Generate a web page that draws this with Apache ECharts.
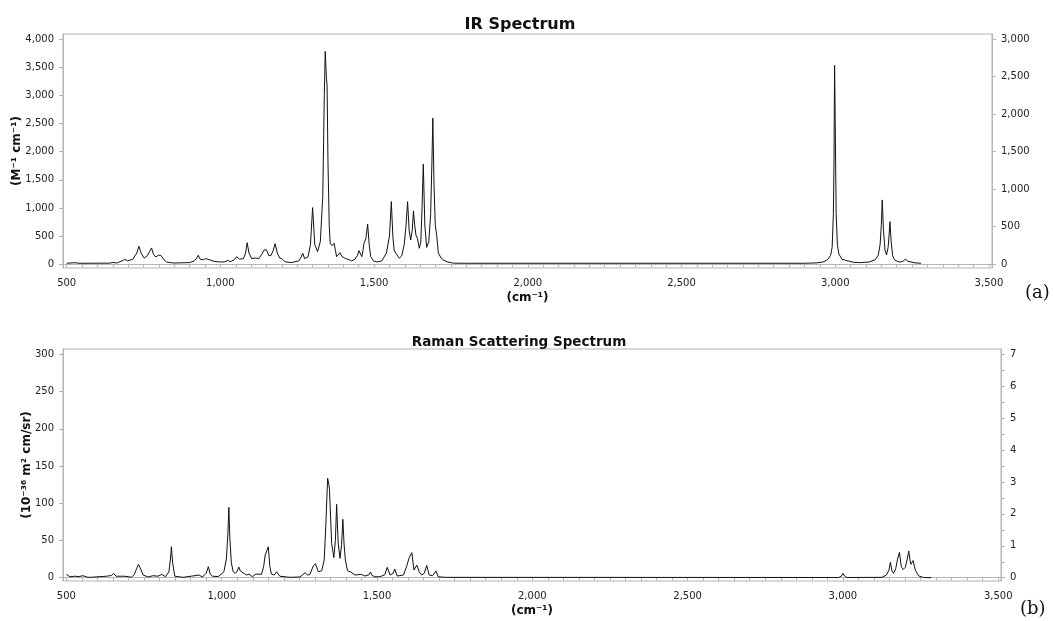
<!DOCTYPE html>
<html>
<head>
<meta charset="utf-8">
<title>IR / Raman Spectrum</title>
<script src="https://cdn.jsdelivr.net/npm/echarts/dist/echarts.min.js"></script>
<style>
  html, body { margin: 0; padding: 0; background: #fff; }
  #main { width: 1053px; height: 621px; }
</style>
</head>
<body>
<div id="main"></div>
<script>
// IR spectrum (cm-1 / M-1 cm-1)
var irX = [500, 527, 540, 640, 651, 662, 680, 689, 698, 715, 728, 735, 742, 752, 762, 770, 776, 782, 790, 798,
  802, 806, 815, 825, 836, 850, 900, 915, 923, 928, 934, 945, 952, 957, 965, 980, 1000, 1015, 1024, 1032,
  1045, 1053, 1062, 1075, 1082, 1087, 1093, 1102, 1113, 1125, 1135, 1142, 1146, 1150, 1158, 1165, 1172, 1178, 1185, 1193,
  1200, 1210, 1230, 1255, 1262, 1268, 1274, 1285, 1293, 1300, 1307, 1316, 1325, 1333, 1338, 1341, 1345, 1347, 1350, 1354,
  1357, 1363, 1370, 1374, 1378, 1384, 1389, 1395, 1400, 1408, 1414, 1420, 1427, 1438, 1446, 1451, 1456, 1460, 1464, 1467,
  1473, 1479, 1484, 1489, 1498, 1509, 1525, 1540, 1550, 1556, 1561, 1565, 1571, 1576, 1582, 1590, 1598, 1604, 1609, 1614,
  1619, 1624, 1628, 1632, 1636, 1641, 1647, 1652, 1656, 1660, 1665, 1671, 1678, 1684, 1688, 1691, 1695, 1699, 1704, 1709,
  1718, 1725, 1740, 1758, 1800, 2900, 2940, 2960, 2975, 2985, 2990, 2994, 2996, 2998, 3000, 3003, 3007, 3012, 3022, 3038,
  3060, 3082, 3110, 3130, 3140, 3146, 3150, 3153, 3157, 3162, 3167, 3172, 3175, 3178, 3182, 3187, 3193, 3203, 3212, 3220,
  3229, 3235, 3239, 3260, 3279];
var irY = [18, 28, 18, 20, 32, 22, 60, 89, 60, 90, 200, 320, 200, 110, 150, 230, 290, 180, 130, 160,
  150, 160, 90, 40, 30, 22, 30, 60, 110, 160, 90, 80, 100, 107, 80, 50, 40, 45, 71, 45,
  80, 135, 90, 100, 200, 384, 200, 100, 112, 100, 180, 254, 230, 254, 150, 160, 250, 366, 200, 110,
  100, 45, 30, 60, 120, 195, 100, 130, 350, 1006, 350, 224, 400, 1200, 3000, 3780, 3300, 3188, 1800, 700,
  378, 330, 373, 250, 135, 160, 206, 140, 107, 100, 117, 80, 59, 90, 160, 242, 180, 135, 250, 373,
  450, 711, 350, 135, 60, 40, 60, 200, 500, 1113, 500, 254, 195, 178, 107, 150, 350, 700, 1113, 600,
  432, 600, 948, 700, 521, 462, 284, 400, 1000, 1778, 700, 300, 400, 900, 1800, 2596, 1400, 700, 491, 200,
  110, 76, 40, 20, 18, 18, 25, 40, 80, 160, 300, 900, 1800, 3531, 2500, 900, 350, 180, 90, 64,
  35, 29, 40, 80, 160, 350, 700, 1143, 600, 250, 165, 300, 500, 758, 400, 150, 76, 50, 41, 50,
  94, 55, 41, 25, 18];

// Raman spectrum (cm-1 / 10-36 m2 cm/sr)
var ramanX = [500, 511, 527, 540, 553, 565, 575, 629, 645, 652, 660, 666, 685, 691, 700, 709, 718, 726, 732, 738,
  747, 763, 779, 795, 807, 819, 830, 835, 838, 842, 849, 876, 927, 938, 950, 957, 963, 970, 989, 1007,
  1015, 1020, 1023, 1026, 1031, 1037, 1044, 1050, 1055, 1060, 1066, 1080, 1088, 1099, 1110, 1128, 1135, 1140, 1144, 1150,
  1155, 1160, 1169, 1177, 1187, 1220, 1252, 1268, 1277, 1284, 1295, 1302, 1311, 1322, 1330, 1335, 1341, 1345, 1347, 1354,
  1361, 1366, 1370, 1375, 1381, 1386, 1390, 1394, 1398, 1405, 1415, 1429, 1450, 1461, 1474, 1479, 1484, 1493, 1509, 1525,
  1533, 1542, 1552, 1557, 1565, 1585, 1595, 1604, 1608, 1612, 1619, 1628, 1636, 1644, 1652, 1660, 1668, 1679, 1690, 1697,
  1720, 2986, 2995, 3000, 3006, 3013, 3126, 3140, 3148, 3153, 3158, 3163, 3170, 3176, 3182, 3188, 3194, 3201, 3207, 3212,
  3216, 3219, 3226, 3233, 3244, 3260, 3284];
var ramanY = [4.5, 1.3, 2, 1.5, 2.7, 1, 0.5, 2, 3, 5.9, 2, 0.5, 2, 3.6, 1.5, 0.5, 4, 12, 18, 13,
  3.6, 1, 2.7, 2, 4.5, 1.3, 8, 25, 41.6, 20, 2, 0.5, 3.6, 1, 6, 14.8, 5, 2, 1.6, 8,
  25, 60, 94.5, 55, 20, 8, 5.9, 9, 14.4, 9, 8, 3.6, 4.9, 1.3, 4.9, 4.5, 15, 30.5, 28, 41.6,
  15, 4.9, 3.6, 8, 2, 0.5, 1, 6.7, 3.6, 4.5, 16, 18.8, 8, 9.4, 23.8, 68.5, 133.5, 125, 118.7, 46,
  27, 50, 98.6, 46, 26, 45, 78.4, 45, 23.8, 9.4, 7.7, 3.6, 4.5, 2.3, 4, 7.7, 3, 1.3, 1.3, 4,
  14, 3.6, 6, 11.7, 2.3, 3.6, 14.8, 27.4, 30, 33.6, 10.3, 17, 8, 3.6, 6, 16.6, 3.6, 2.7, 9, 1.3,
  0.5, 0.3, 2, 5.9, 2, 0.3, 0.5, 3.6, 10, 20.7, 9, 5.9, 12, 25, 34, 15, 11, 14, 25, 35.8,
  24, 18, 23, 10.3, 2.3, 0.3, 0];

// tick labels
var wnTicks = [500, 1000, 1500, 2000, 2500, 3000, 3500];
var irLeftTicks = [0, 500, 1000, 1500, 2000, 2500, 3000, 3500, 4000];
var irRightTicks = [0, 500, 1000, 1500, 2000, 2500, 3000];
var ramanLeftTicks = [0, 50, 100, 150, 200, 250, 300];
var ramanRightTicks = [0, 1, 2, 3, 4, 5, 6, 7];

var wnMinor = [];
for (var v = 500; v <= 3500; v += 50) wnMinor.push(v);
var ramanRightMinor = [];
for (var k = 0; k <= 14; k++) ramanRightMinor.push(k / 2);

function zip(xs, ys) {
  var out = [];
  for (var i = 0; i < xs.length; i++) out.push([xs[i], ys[i]]);
  return out;
}

var FONT = 'DejaVu Sans';
var AXIS_GREY = '#b4b4b4';

function fmt(v) {
  return Number(v).toLocaleString('en-US');
}

function xAxisOf(gridIndex, min, max) {
  return {
    type: 'value',
    gridIndex: gridIndex,
    min: min,
    max: max,
    name: '(cm\u207B\u00B9)',
    nameLocation: 'middle',
    nameGap: 24,
    nameMoveOverlap: false,
    nameTextStyle: { fontFamily: FONT, fontSize: 12, fontWeight: 'bold', color: '#111' },
    axisLine: { show: true, lineStyle: { color: AXIS_GREY } },
    axisTick: { show: true, inside: false, length: 3, customValues: wnMinor, lineStyle: { color: AXIS_GREY } },
    axisLabel: { customValues: wnTicks, formatter: fmt, fontFamily: FONT, fontSize: 10, color: '#222', margin: 10 },
    splitLine: { show: false }
  };
}

function yAxisOf(gridIndex, pos, min, max, labels, ticks, name, gap) {
  return {
    type: 'value',
    gridIndex: gridIndex,
    position: pos,
    min: min,
    max: max,
    name: name || '',
    nameLocation: 'middle',
    nameGap: gap || 0,
    nameMoveOverlap: false,
    nameTextStyle: { fontFamily: FONT, fontSize: 12, fontWeight: 'bold', color: '#111' },
    axisLine: { show: true, lineStyle: { color: AXIS_GREY } },
    axisTick: { show: true, length: 4, customValues: ticks, lineStyle: { color: AXIS_GREY } },
    axisLabel: { customValues: labels, formatter: fmt, fontFamily: FONT, fontSize: 10, color: '#222', margin: 9 },
    splitLine: { show: false }
  };
}

var chart = echarts.init(document.getElementById('main'), null, { renderer: 'canvas' });

var option = {
  animation: false,
  backgroundColor: '#fff',
  title: [
    { text: 'IR Spectrum', left: 515, top: 12, textAlign: 'center',
      textStyle: { fontFamily: FONT, fontSize: 16, fontWeight: 'bold', color: '#111' } },
    { text: 'Raman Scattering Spectrum', left: 514, top: 330, textAlign: 'center',
      textStyle: { fontFamily: FONT, fontSize: 13.5, fontWeight: 'bold', color: '#111' } }
  ],
  grid: [
    { left: 63, right: 61, top: 34, bottom: 353, outerBoundsMode: 'none', containLabel: false,
      show: true, borderColor: AXIS_GREY, borderWidth: 1 },
    { left: 63, right: 52, top: 349, bottom: 40, outerBoundsMode: 'none', containLabel: false,
      show: true, borderColor: AXIS_GREY, borderWidth: 1 }
  ],
  xAxis: [
    xAxisOf(0, 488, 3510),
    xAxisOf(1, 489, 3509)
  ],
  yAxis: [
    yAxisOf(0, 'left', -66, 4089, irLeftTicks, irLeftTicks, '(M\u207B\u00B9 cm\u207B\u00B9)', 40),
    yAxisOf(0, 'right', -49.5, 3066.75, irRightTicks, irRightTicks),
    yAxisOf(1, 'left', -4.4, 307.1, ramanLeftTicks, ramanLeftTicks, '(10\u207B\u00B3\u2076 m\u00B2 cm/sr)', 30),
    yAxisOf(1, 'right', -0.103, 7.166, ramanRightTicks, ramanRightMinor)
  ],
  series: [
    {
      name: 'IR', type: 'line', xAxisIndex: 0, yAxisIndex: 0,
      data: zip(irX, irY), showSymbol: false, symbol: 'none',
      lineStyle: { color: '#111', width: 1 }
    },
    {
      name: 'Raman', type: 'line', xAxisIndex: 1, yAxisIndex: 2,
      data: zip(ramanX, ramanY), showSymbol: false, symbol: 'none',
      lineStyle: { color: '#111', width: 1 }
    }
  ],
  graphic: [
    { type: 'text', left: 1025, top: 284, style: { text: '(a)', fontFamily: 'DejaVu Serif', fontSize: 18, fill: '#111' } },
    { type: 'text', left: 1020, top: 600, style: { text: '(b)', fontFamily: 'DejaVu Serif', fontSize: 18, fill: '#111' } }
  ]
};

chart.setOption(option);
</script>
</body>
</html>
